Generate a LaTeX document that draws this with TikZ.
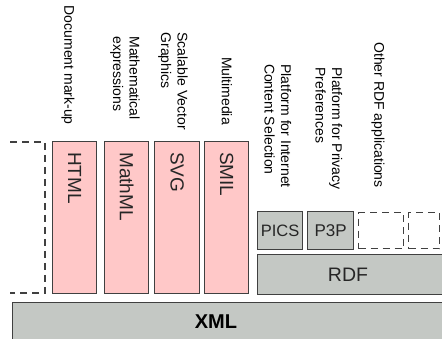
\documentclass[tikz,border=0pt]{standalone}
\usepackage{fontspec}
\setmainfont{Liberation Sans}
\definecolor{pinkfill}{HTML}{FFC8C8}
\definecolor{grayfill}{HTML}{C4C8C4}
\definecolor{edge}{HTML}{404040}
\begin{document}
\begin{tikzpicture}[x=1pt,y=-1pt,
  box/.style={draw=edge,line width=1.2pt,inner sep=0pt,anchor=north west,minimum width=#1},
  pinkbox/.style={box=44pt,fill=pinkfill,minimum height=152pt},
  smallbox/.style={box=45pt,fill=grayfill,minimum height=38pt},
  dashbox/.style={draw=edge,line width=1.2pt,dash pattern=on 7pt off 5pt,inner sep=0pt,anchor=north west,minimum height=36pt,minimum width=#1},
  lbl/.style={rotate=-90,anchor=east,align=left,inner sep=0pt,font=\fontsize{14}{16.5}\selectfont},
  boxlbl/.style={rotate=-90,anchor=west,inner sep=0pt,font=\fontsize{19}{22}\selectfont,text=black!85},
]
\useasboundingbox (0,0) rectangle (442,339);
% XML base
\node[box=440pt,fill=grayfill,minimum height=44pt] (xml) at (12,302) {};
\node[font=\fontsize{20}{24}\selectfont\bfseries] (xmlt) at (216,322) {XML};
% left dashed box
\coordinate (d0a) at (10,142);
\coordinate (d0b) at (45,142);
\coordinate (d0c) at (45,293);
\coordinate (d0d) at (10,293);
\draw[draw=edge,line width=1.2pt,dash pattern=on 7pt off 5pt] (d0a) -- (d0b) -- (d0c) -- (d0d);
% pink boxes
\node[pinkbox] (html) at (52,141) {};
\node[pinkbox] (mathml) at (104,141) {};
\node[pinkbox,minimum width=45pt] (svg) at (154,141) {};
\node[pinkbox] (smil) at (204,141) {};
\node[boxlbl] at ([yshift=-11pt]html.north) {HTML};
\node[boxlbl] at ([yshift=-11pt]mathml.north) {MathML};
\node[boxlbl] at ([yshift=-11pt]svg.north) {SVG};
\node[boxlbl] at ([yshift=-11pt]smil.north) {SMIL};
% RDF
\node[box=190pt,fill=grayfill,minimum height=40pt] (rdf) at (257,254) {};
\node[font=\fontsize{19.5}{23}\selectfont,text=black!85] (rdft) at (348,275) {RDF};
\node[smallbox] (pics) at (257,211) {};
\node[smallbox,minimum width=46pt] (p3p) at (307,211) {};
\node[font=\fontsize{16.5}{20}\selectfont,text=black!85] at (pics.center) {PICS};
\node[font=\fontsize{17}{20}\selectfont,text=black!85] at (p3p.center) {P3P};
\node[dashbox=45pt] (oth1) at (358,212) {};
\node[dashbox=31pt] (oth2) at (408,212) {};
% labels
\node[lbl] (l1) at (68,125) {Document mark-up};
\node[lbl] (l2) at (125,120) {Mathematical\\expressions};
\node[lbl] (l3) at (173,130) {Scalable Vector\\Graphics};
\node[lbl] (l4) at (227,125) {Multimedia};
\node[lbl] (l5) at (278,188) {Platform for Internet\\Content Selection};
\node[lbl] (l6) at (329,190) {Platform for Privacy\\Preferences};
\node[lbl] (l7) at (378,188) {Other RDF applications};
\end{tikzpicture}
\end{document}
